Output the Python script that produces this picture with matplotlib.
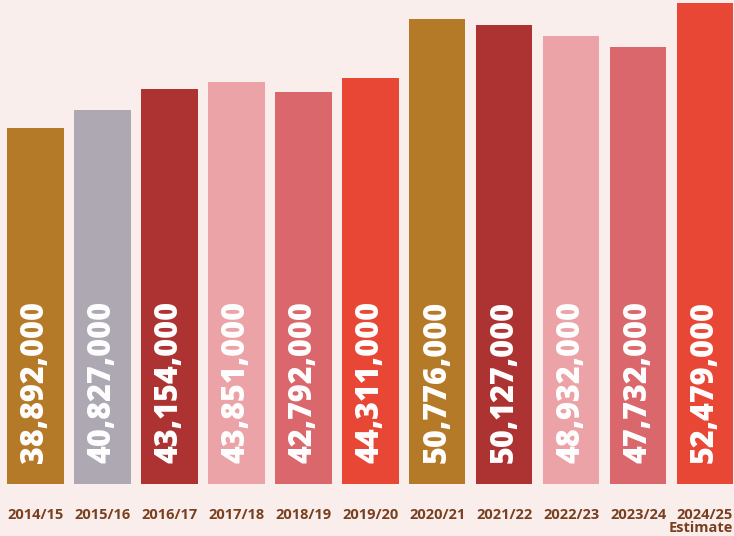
import matplotlib.pyplot as plt

years = ["2014/15", "2015/16", "2016/17", "2017/18", "2018/19", "2019/20",
         "2020/21", "2021/22", "2022/23", "2023/24", "2024/25"]
values = [38892000, 40827000, 43154000, 43851000, 42792000, 44311000,
          50776000, 50127000, 48932000, 47732000, 52479000]
colors = ["#b57a28", "#aea8b2", "#ad3333", "#eba3a7", "#da676b", "#e84735",
          "#b57a28", "#ad3333", "#eba3a7", "#da676b", "#e84735"]

bg = "#f9eeec"
brown = "#7a3f1f"

fig = plt.figure(figsize=(7.34, 5.36), dpi=100, facecolor=bg)
ax = fig.add_axes([0, 52 / 536, 1, 484 / 536])
ax.set_facecolor(bg)

x = list(range(len(years)))
ax.bar(x, values, width=0.845, color=colors)

for xi, v in zip(x, values):
    ax.text(xi, 2300000, f"{v:,}", rotation=90, ha="left", va="center",
            rotation_mode="anchor", color="white", fontsize=22,
            fontweight=800, family="Open Sans")

ax.set_xlim(-0.530, 10.433)
ax.set_ylim(0, 52840000)
ax.set_xticks(x)
ax.set_xticklabels(years, fontsize=10.5, fontweight="bold", color=brown,
                   family="Open Sans")
ax.tick_params(axis="x", length=0, pad=17)
ax.set_yticks([])
for s in ax.spines.values():
    s.set_visible(False)

ax.text(x[-1] + 0.42, -4750000, "Estimate", ha="right", va="center",
        fontsize=10.5, fontweight="bold", color=brown, family="Open Sans")

fig.savefig("out.png", dpi=100, facecolor=bg)
